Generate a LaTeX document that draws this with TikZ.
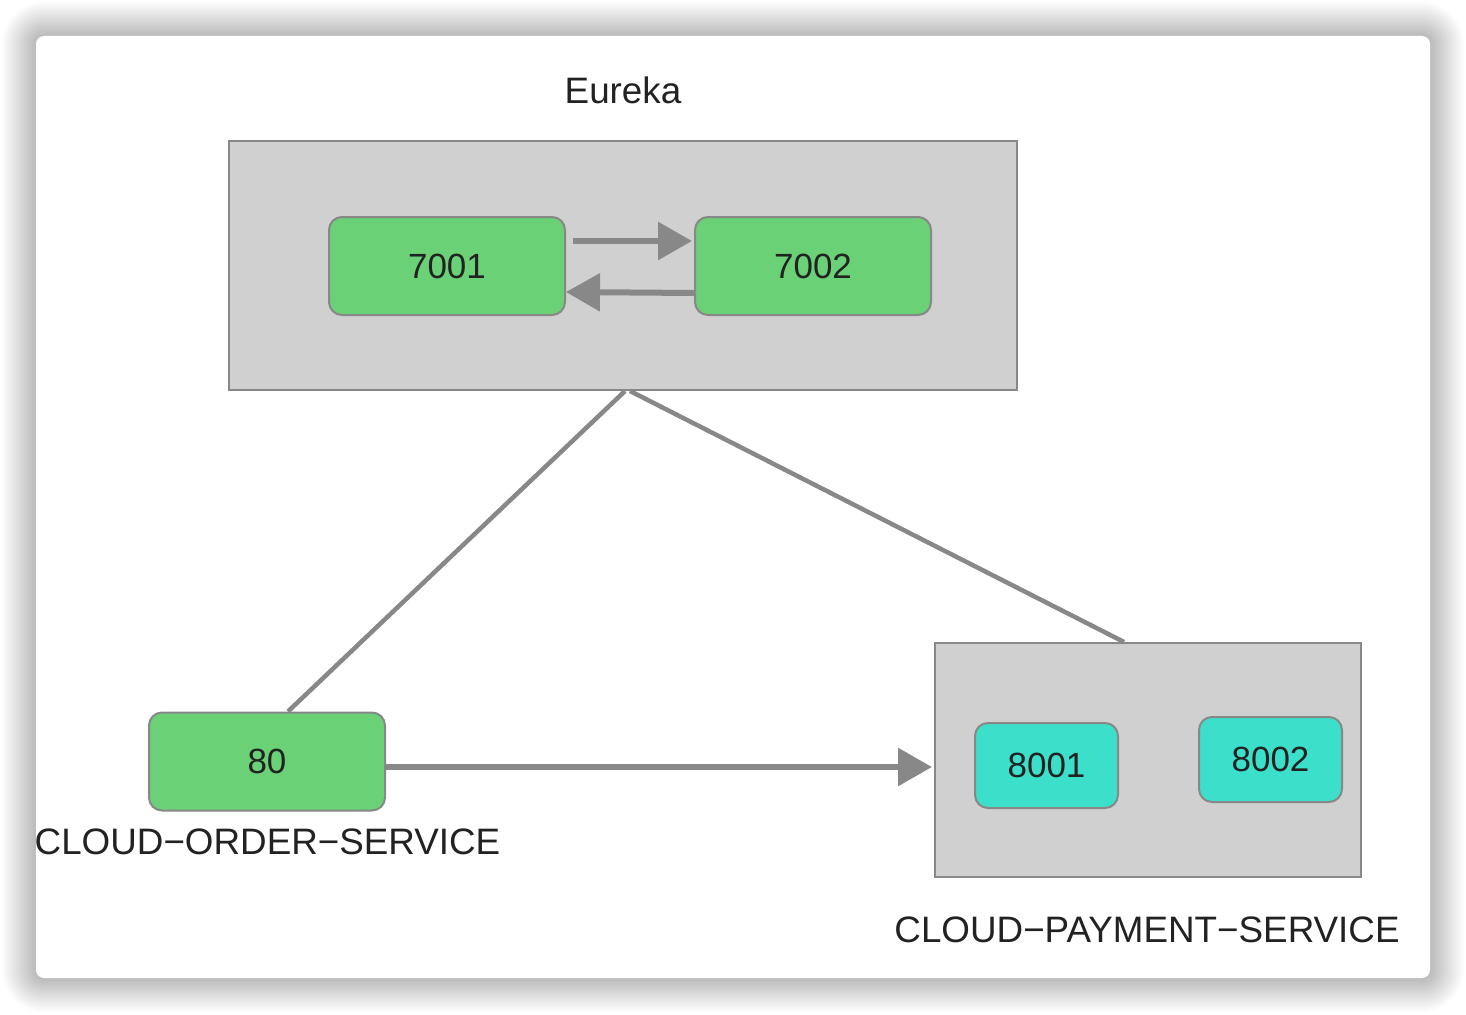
\documentclass[tikz,border=0pt]{standalone}
\usepackage{fontspec}
\setmainfont{Liberation Sans}
\usetikzlibrary{arrows.meta}
\usetikzlibrary{positioning}
\definecolor{boxgray}{RGB}{208,208,208}
\definecolor{edgegray}{RGB}{136,136,136}
\definecolor{svcgreen}{RGB}{106,209,118}
\definecolor{svcteal}{RGB}{60,224,202}
\definecolor{ink}{RGB}{34,34,34}
\tikzset{grp/.style = {draw=edgegray, fill=boxgray, line width=2, inner sep=0}}
\tikzset{svc/.style = {draw=edgegray, fill=svcgreen, line width=2, rounded corners=13,
                       minimum width=236, minimum height=98, inner sep=0,
                       text=ink, font=\fontsize{35}{40}\selectfont}}
\tikzset{pay/.style = {svc, fill=svcteal, minimum width=143, minimum height=85}}
\tikzset{lbl/.style = {text=ink, inner sep=0, font=\fontsize{36.8}{42}\selectfont}}
\tikzset{flow/.style = {draw=edgegray, line width=6, -{Triangle[length=34pt,width=37pt]}}}
\tikzset{link/.style = {draw=edgegray, line width=4.5}}

\begin{document}
\begin{tikzpicture}[x=1pt, y=-1pt]
      \useasboundingbox (0,0) rectangle (1466,1014);

      % card and its shadow
      \foreach \d in {1,...,34} {
        \fill [black, opacity=0.006, rounded corners=8+\d] (36-\d,36-\d) rectangle (1430+\d,978+\d);
      }
      \fill [white, rounded corners=8] (36,36) rectangle (1430,978);

      \node [grp, minimum width=788, minimum height=249] (eureka) at (623,265.5) {};
      \node [lbl] (eurekalbl) at (623,90) {Eureka};
      \node [svc] (s7001) at (447,266) {7001};
      \node [svc] (s7002) at (813,266) {7002};

      \node [grp, minimum width=426, minimum height=234] (payment) at (1148,760) {};
      \node [pay] (s8001) at (1046.5,765.5) {8001};
      \node [pay] (s8002) at (1270.5,759.5) {8002};
      \node [lbl] (paymentlbl) at (1147,930) {CLOUD−PAYMENT−SERVICE};

      \node [svc] (s80) at (267,761.5) {80};
      \node [lbl] (orderlbl) at (267.5,842) {CLOUD−ORDER−SERVICE};

      \draw [flow] ([xshift=7,yshift=25]s7001.east) -- ([xshift=-2,yshift=25]s7002.west);
      \draw [flow] ([yshift=-27]s7002.west) -- ([yshift=-26]s7001.east);

      \coordinate (p80) at ([yshift=-5.5]s80.east);
      \draw [flow] (p80) -- ([xshift=-2]p80 -| payment.west);

      \draw [link] ([xshift=2]eureka.south) -- ([xshift=21]s80.north);
      \draw [link] ([xshift=7]eureka.south) -- ([xshift=-24]payment.north);

\end{tikzpicture}
\end{document}
